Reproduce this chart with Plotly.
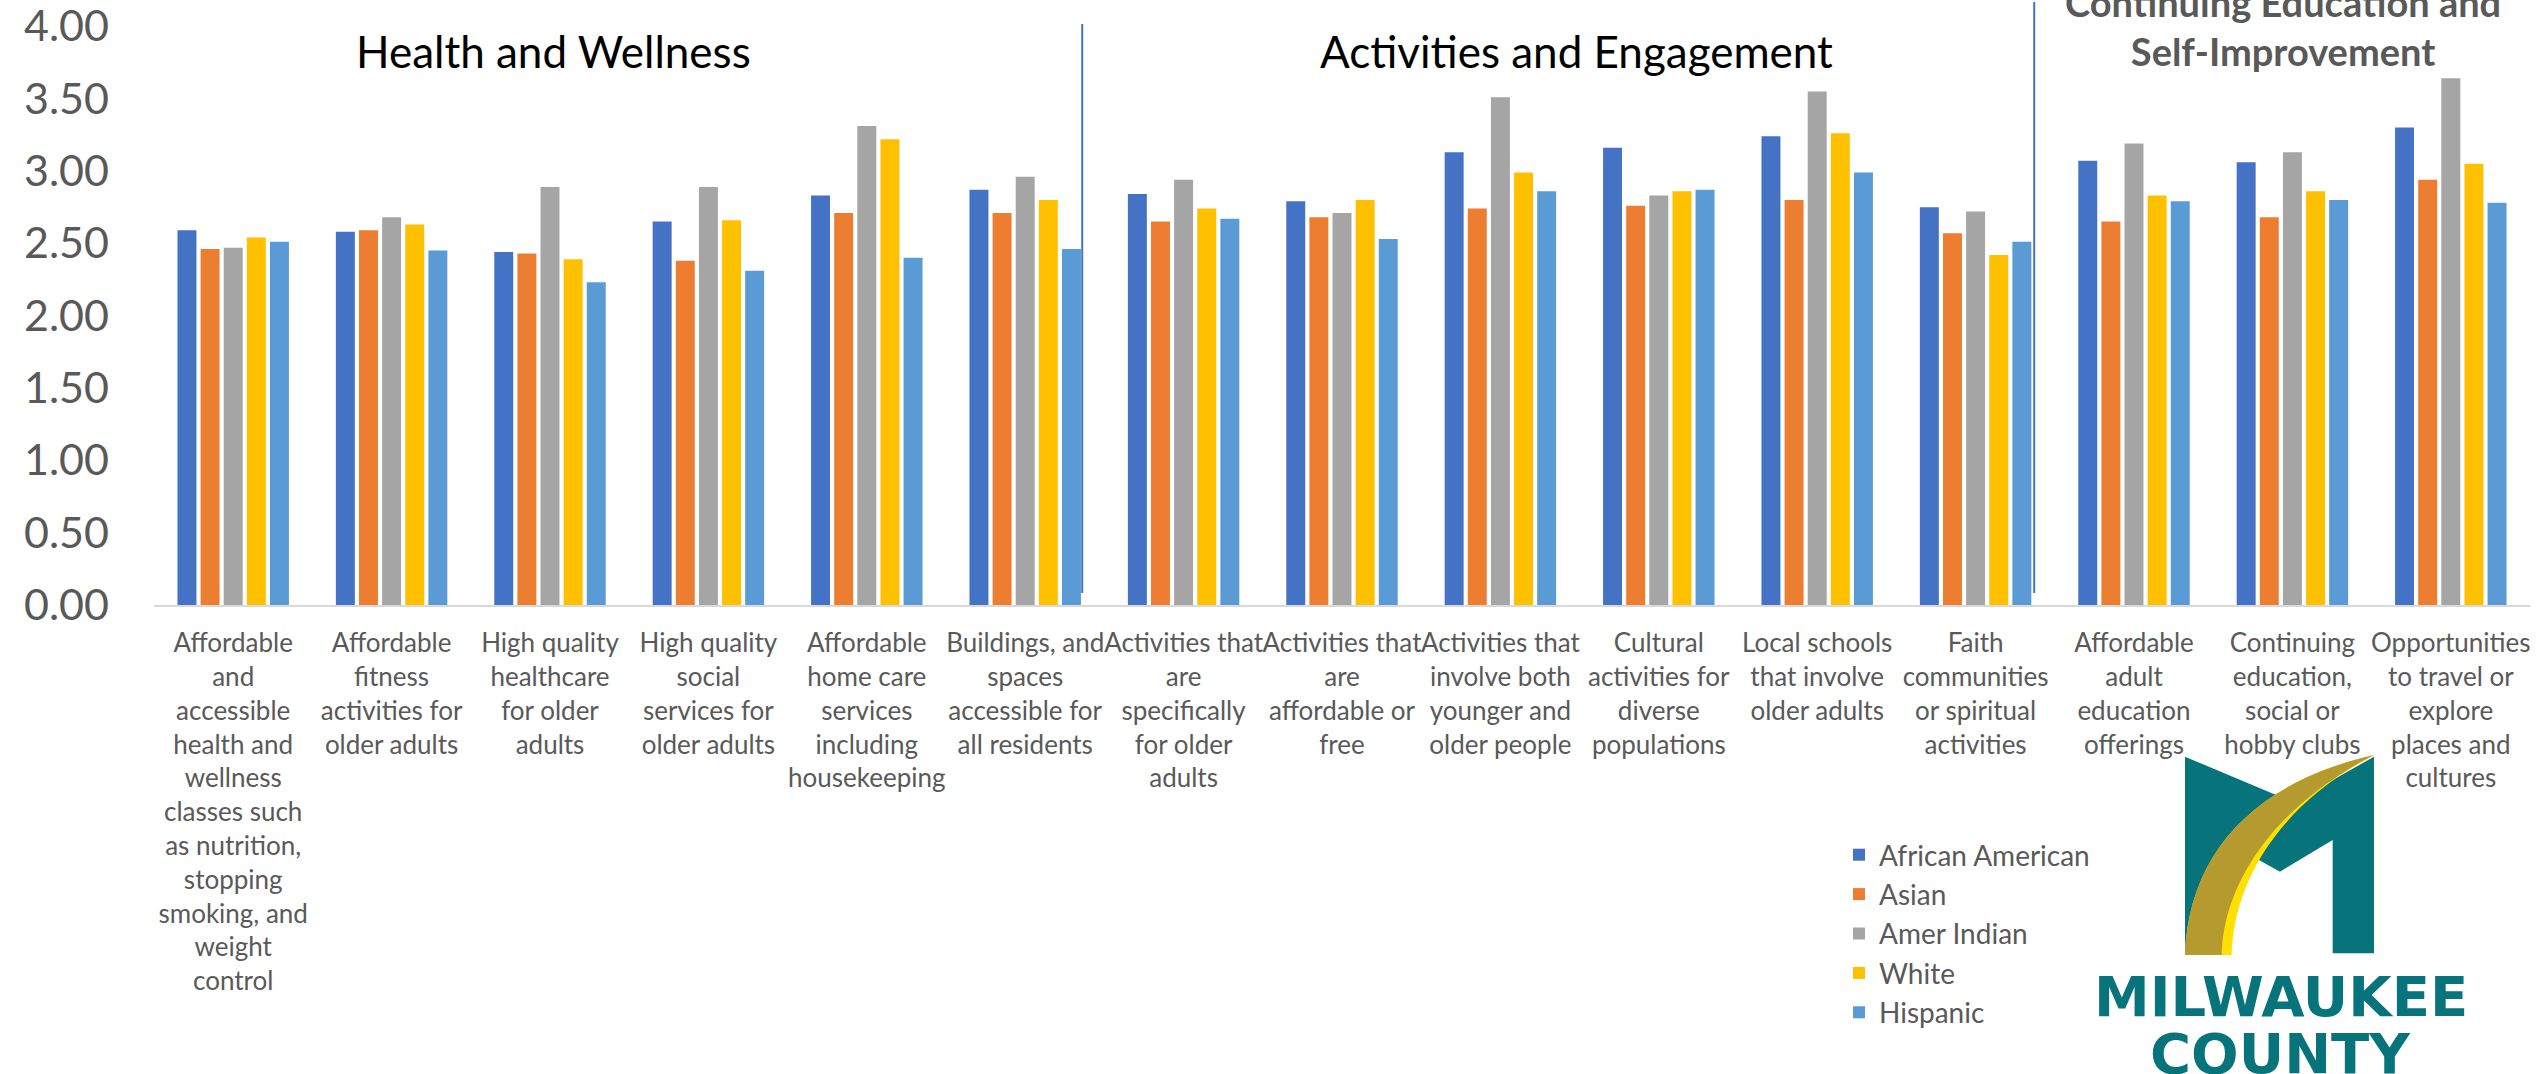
import plotly.graph_objects as go

# ---------------- data ----------------
categories = [
    "Affordable<br>and<br>accessible<br>health and<br>wellness<br>classes such<br>as nutrition,<br>stopping<br>smoking, and<br>weight<br>control",
    "Affordable<br>fitness<br>activities for<br>older adults",
    "High quality<br>healthcare<br>for older<br>adults",
    "High quality<br>social<br>services for<br>older adults",
    "Affordable<br>home care<br>services<br>including<br>housekeeping",
    "Buildings, and<br>spaces<br>accessible for<br>all residents",
    "Activities that<br>are<br>specifically<br>for older<br>adults",
    "Activities that<br>are<br>affordable or<br>free",
    "Activities that<br>involve both<br>younger and<br>older people",
    "Cultural<br>activities for<br>diverse<br>populations",
    "Local schools<br>that involve<br>older adults",
    "Faith<br>communities<br>or spiritual<br>activities",
    "Affordable<br>adult<br>education<br>offerings",
    "Continuing<br>education,<br>social or<br>hobby clubs",
    "Opportunities<br>to travel or<br>explore<br>places and<br>cultures",
]

african_american = [2.59, 2.58, 2.44, 2.65, 2.83, 2.87, 2.84, 2.79, 3.13, 3.16, 3.24, 2.75, 3.07, 3.06, 3.30]
asian            = [2.46, 2.59, 2.43, 2.38, 2.71, 2.71, 2.65, 2.68, 2.74, 2.76, 2.80, 2.57, 2.65, 2.68, 2.94]
amer_indian      = [2.47, 2.68, 2.89, 2.89, 3.31, 2.96, 2.94, 2.71, 3.51, 2.83, 3.55, 2.72, 3.19, 3.13, 3.64]
white            = [2.54, 2.63, 2.39, 2.66, 3.22, 2.80, 2.74, 2.80, 2.99, 2.86, 3.26, 2.42, 2.83, 2.86, 3.05]
hispanic         = [2.51, 2.45, 2.23, 2.31, 2.40, 2.46, 2.67, 2.53, 2.86, 2.87, 2.99, 2.51, 2.79, 2.80, 2.78]

series_names = ["African American", "Asian", "Amer Indian", "White", "Hispanic"]
series_values = [african_american, asian, amer_indian, white, hispanic]
series_colors = ["#4472C4", "#ED7D31", "#A5A5A5", "#FFC000", "#5B9BD5"]

y_ticks = [0, 0.5, 1, 1.5, 2, 2.5, 3, 3.5, 4]
y_ticktext = ["0.00", "0.50", "1.00", "1.50", "2.00", "2.50", "3.00", "3.50", "4.00"]

section_titles = ["Health and Wellness", "Activities and Engagement",
                  "Continuing Education and<br>Self-Improvement"]

# ---------------- layout geometry ----------------
W, H = 2542, 1074
L, R, T, B = 154, 2530, 26, 605
FONT = "Lato, 'Open Sans', sans-serif"
GRAY_TXT = "#595959"
TEAL = "#07737B"


def px(X):
    return (X - L) / (R - L)


def py(Y):
    return (B - Y) / (B - T)


fig = go.Figure()
for name, vals, col in zip(series_names, series_values, series_colors):
    fig.add_trace(go.Bar(name=name, x=categories, y=vals, marker_color=col,
                         marker_line_width=0))

# separator lines
shapes = [
    dict(type="line", xref="x", yref="paper", x0=5.36, x1=5.36, y0=py(593), y1=py(24),
         line=dict(color="#4472C4", width=2)),
    dict(type="line", xref="x", yref="paper", x0=11.37, x1=11.37, y0=py(593), y1=py(2),
         line=dict(color="#4472C4", width=2)),
]

# logo (Milwaukee County) -- coordinates from a 3x crop with origin (2150, 740)


def lp(zx, zy):
    return f"{px(2150 + zx / 3):.5f},{py(740 + zy / 3):.5f}"


teal_path = ("M" + lp(105, 50) + " L" + lp(430, 187) + " L" + lp(672, 50) + " L" + lp(672, 640)
             + " L" + lp(548, 640) + " L" + lp(548, 300) + " L" + lp(390, 395) + " L" + lp(300, 345)
             + " L" + lp(215, 645) + " L" + lp(105, 645) + " Z")
yellow_path = ("M" + lp(105, 645) + " C" + lp(115, 350) + " " + lp(300, 130) + " " + lp(672, 45)
               + " C" + lp(360, 210) + " " + lp(250, 450) + " " + lp(245, 645) + " Z")
gold_path = ("M" + lp(105, 645) + " C" + lp(115, 350) + " " + lp(300, 130) + " " + lp(672, 45)
             + " C" + lp(370, 200) + " " + lp(220, 430) + " " + lp(215, 645) + " Z")
for pth, col in [(teal_path, TEAL), (yellow_path, "#FFE000"), (gold_path, "#B59A2F")]:
    shapes.append(dict(type="path", xref="paper", yref="paper", path=pth,
                       fillcolor=col, line=dict(width=0), layer="above"))

annotations = [
    dict(text=section_titles[0], x=px(553), y=py(51), xref="paper", yref="paper",
         showarrow=False, xanchor="center", yanchor="middle",
         font=dict(family=FONT, size=44, color="#000000")),
    dict(text=section_titles[1], x=px(1576), y=py(51), xref="paper", yref="paper",
         showarrow=False, xanchor="center", yanchor="middle",
         font=dict(family=FONT, size=44, color="#000000")),
    dict(text="<b>" + section_titles[2].replace("<br>", "</b><br><b>") + "</b>",
         x=px(2283), y=py(27), xref="paper", yref="paper",
         showarrow=False, xanchor="center", yanchor="middle",
         font=dict(family=FONT, size=38, color=GRAY_TXT)),
    dict(text="<b>MILWAUKEE</b>", x=px(2281), y=py(996), xref="paper", yref="paper",
         showarrow=False, xanchor="center", yanchor="middle",
         font=dict(family="'DejaVu Sans', sans-serif", size=56, color=TEAL)),
    dict(text="<b>COUNTY</b>", x=px(2280), y=py(1053), xref="paper", yref="paper",
         showarrow=False, xanchor="center", yanchor="middle",
         font=dict(family="'DejaVu Sans', sans-serif", size=56, color=TEAL)),
]

fig.update_layout(
    width=W, height=H,
    margin=dict(l=L, r=W - R, t=T, b=H - B, pad=0, autoexpand=False),
    paper_bgcolor="white", plot_bgcolor="white",
    barmode="group", bargap=0.27, bargroupgap=0.18,
    font=dict(family=FONT, color=GRAY_TXT),
    showlegend=True,
    legend=dict(x=px(1839), y=py(830), xanchor="left", yanchor="top",
                font=dict(family=FONT, size=28, color=GRAY_TXT),
                bgcolor="rgba(0,0,0,0)", tracegroupgap=0),
    shapes=shapes,
    annotations=annotations,
)
fig.update_xaxes(showline=True, linecolor="#D9D9D9", linewidth=2, showgrid=False,
                 ticks="", tickangle=0, tickfont=dict(family=FONT, size=26, color=GRAY_TXT),
                 ticklabelstandoff=14, fixedrange=True, automargin=False)
fig.update_yaxes(range=[0, 4.002], tickvals=y_ticks, ticktext=y_ticktext, showgrid=False,
                 zeroline=False, showline=False, ticks="", ticklabeloverflow="allow",
                 tickfont=dict(family=FONT, size=43, color=GRAY_TXT),
                 ticklabelstandoff=44, fixedrange=True, automargin=False)

fig.write_html("out.html", config={"displayModeBar": False},
               post_script="document.body.style.margin='0';document.body.style.overflow='hidden';")
